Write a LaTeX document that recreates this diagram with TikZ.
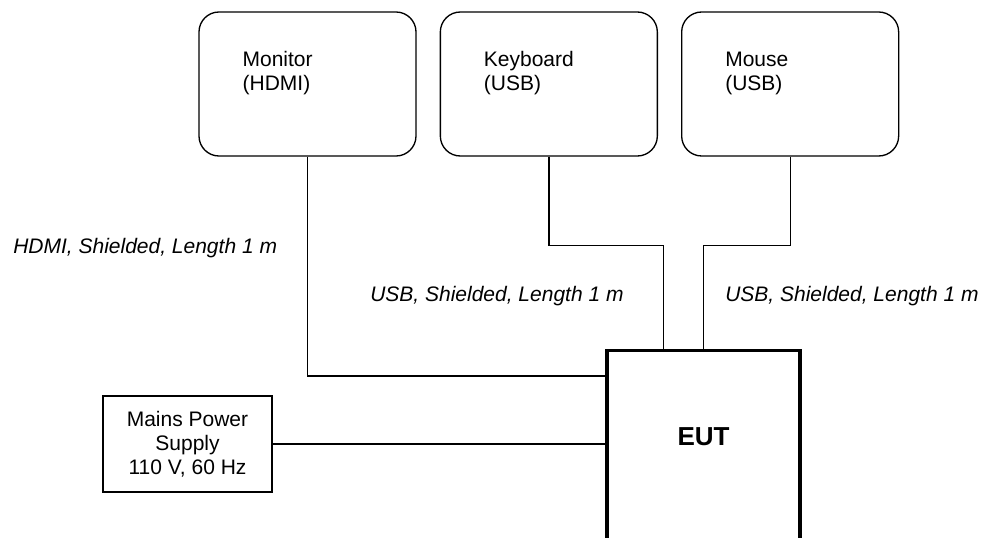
\documentclass[tikz,border=0pt]{standalone}
\usepackage{fontspec}
\setmainfont{Liberation Sans}
\usetikzlibrary{positioning}
\tikzstyle{devbox}=[draw,line width=1pt,rounded corners=15pt,minimum width=162.75pt,minimum height=108pt,inner sep=0pt]
\tikzstyle{devtext}=[inner sep=0pt,align=left,font=\fontsize{15.75}{18}\selectfont]
\tikzstyle{psubox}=[draw,line width=1pt,minimum width=126.75pt,minimum height=72pt,inner sep=0pt,align=center,font=\fontsize{15.75}{18}\selectfont]
\tikzstyle{cablelabel}=[inner sep=0pt,anchor=base west,font=\fontsize{15.75}{18}\selectfont\itshape]
\tikzstyle{cable}=[line width=1pt]

\begin{document}
\begin{tikzpicture}[x=0.75pt,y=-0.75pt]
  \useasboundingbox (0,0) rectangle (988,538);
  \clip (0,0) rectangle (988,538);
  % peripherals
  \node(mon)[devbox] at (307.5,84) {};
  \node(kbd)[devbox,right=17.25pt of mon] {};
  \node(mou)[devbox,right=17.25pt of kbd] {};
  \node(montext)[devtext,below right=30pt and 33pt of mon.north west] {Monitor\\(HDMI)};
  \node(kbdtext)[devtext,below right=30pt and 33pt of kbd.north west] {Keyboard\\(USB)};
  \node(moutext)[devtext,below right=30pt and 33pt of mou.north west] {Mouse\\(USB)};
  % equipment under test
  \node(eut)[draw,line width=2.6pt,minimum width=144.75pt,minimum height=225pt,anchor=north] at (703.5,349) {};
  \node(euttext)[inner sep=0pt,font=\fontsize{19.5}{22}\selectfont\bfseries,below=59pt of eut.north] {EUT};
  \node(psu)[psubox] at (187.5,444) {Mains Power\\Supply\\110 V, 60 Hz};
  \path (eut.north west) ++(0,27) coordinate (hdmiin);
  \path (eut.north) ++(-40,0) coordinate (kbdin);
  % cables
  \draw[cable] (mon.south) |- (hdmiin);
  \draw[cable] (kbd.south) -- ++(0,89) -| (kbdin);
  \draw[cable] (mou.south) -- ++(0,89) -| (eut.north);
  \draw[cable] (psu.east) -- (psu.east -| eut.west);
  \node(hdmilabel)[cablelabel] at (13,253) {HDMI, Shielded, Length 1 m};
  \node(kbdlabel)[cablelabel] at (370,301) {USB, Shielded, Length 1 m};
  \node(moulabel)[cablelabel] at (725,301) {USB, Shielded, Length 1 m};
\end{tikzpicture}
\end{document}
